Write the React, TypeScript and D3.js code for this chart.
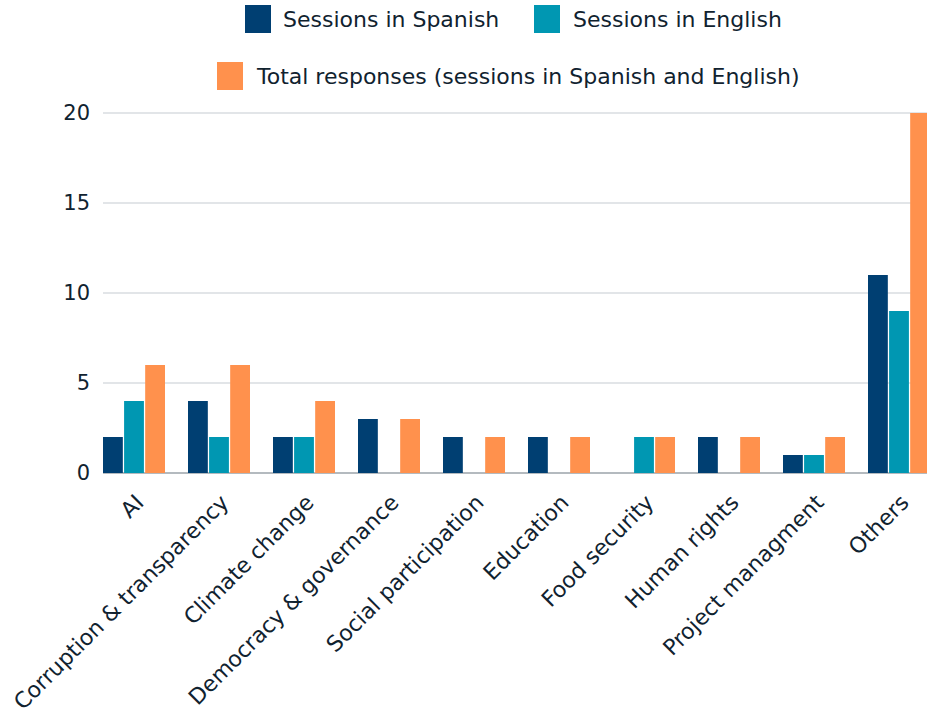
import React from "react";
import * as d3 from "d3";

const categories = [
  "AI",
  "Corruption & transparency",
  "Climate change",
  "Democracy & governance",
  "Social participation",
  "Education",
  "Food security",
  "Human rights",
  "Project managment",
  "Others",
];
const spanish = [2, 4, 2, 3, 2, 2, 0, 2, 1, 11];
const english = [4, 2, 2, 0, 0, 0, 2, 0, 1, 9];
const total = [6, 6, 4, 3, 2, 2, 2, 2, 2, 20];
const yTicks = [0, 5, 10, 15, 20];

const seriesNames = [
  "Sessions in Spanish",
  "Sessions in English",
  "Total responses (sessions in Spanish and English)",
];
const colors = ["#003f72", "#0097b2", "#ff914d"];

const W = 927;
const H = 712;
const FONT = "'DejaVu Sans', sans-serif";
const TEXT = "#10222f";

export default function App() {
  const left = 103;
  const baseY = 473;
  const topY = 113;
  const x = d3
    .scaleBand<string>()
    .domain(categories)
    .range([left, left + 827])
    .paddingInner(23 / 85)
    .paddingOuter(0)
    .align(0);
  const y = d3.scaleLinear().domain([0, 20]).range([baseY, topY]);
  const inner = d3
    .scaleBand<number>()
    .domain([0, 1, 2])
    .range([0, x.bandwidth()])
    .paddingInner(0.06);
  const series = [spanish, english, total];

  return (
    <svg width={W} height={H} style={{ position: "absolute", left: 0, top: 0 }}>
      <rect width={W} height={H} fill="#fff" />
      {yTicks.map((t) => (
        <g key={t}>
          <line
            x1={left}
            x2={W}
            y1={y(t)}
            y2={y(t)}
            stroke={t === 0 ? "#b4babf" : "#d9dde0"}
            strokeWidth={t === 0 ? 2 : 1.5}
          />
          <text
            x={90}
            y={y(t)}
            dy="0.35em"
            textAnchor="end"
            fontFamily={FONT}
            fontSize={21}
            fill={TEXT}
          >
            {t}
          </text>
        </g>
      ))}
      {categories.map((c, i) => (
        <g key={c}>
          {series.map((s, k) =>
            s[i] > 0 ? (
              <rect
                key={k}
                x={(x(c) as number) + (inner(k) as number)}
                y={y(s[i])}
                width={inner.bandwidth()}
                height={baseY - y(s[i])}
                fill={colors[k]}
              />
            ) : null
          )}
          <text
            transform={`translate(${(x(c) as number) + x.bandwidth() / 2 + 11},${baseY + 31}) rotate(-45)`}
            textAnchor="end"
            fontFamily={FONT}
            fontSize={22}
            fill={TEXT}
          >
            {c}
          </text>
        </g>
      ))}
      {/* legend */}
      <g fontFamily={FONT} fontSize={22} fill={TEXT}>
        <rect x={245} y={5} width={26} height={28} fill={colors[0]} />
        <text x={283} y={19} dy="0.35em">{seriesNames[0]}</text>
        <rect x={534} y={5} width={26} height={28} fill={colors[1]} />
        <text x={573} y={19} dy="0.35em">{seriesNames[1]}</text>
        <rect x={217} y={62} width={26} height={28} fill={colors[2]} />
        <text x={257} y={76} dy="0.35em">{seriesNames[2]}</text>
      </g>
    </svg>
  );
}
